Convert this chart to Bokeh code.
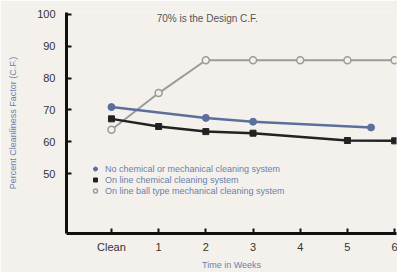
from bokeh.plotting import figure
from bokeh.models import Legend, LegendItem, Label, FixedTicker
from bokeh.embed import file_html
from bokeh.resources import INLINE

x_ticks = [0, 1, 2, 3, 4, 5, 6]
x_tick_labels = ["Clean", "1", "2", "3", "4", "5", "6"]
y_ticks = [50, 60, 70, 80, 90, 100]

none_x = [0, 2, 3, 5.5]
none_y = [70.9, 67.5, 66.3, 64.5]

chem_x = [0, 1, 2, 3, 5, 6]
chem_y = [67.2, 64.8, 63.2, 62.7, 60.4, 60.3]

ball_x = [0, 1, 2, 3, 4, 5, 6]
ball_y = [63.8, 75.3, 85.6, 85.6, 85.6, 85.6, 85.6]

labels = [
    "No chemical or mechanical cleaning system",
    "On line chemical cleaning system",
    "On line ball type mechanical cleaning system",
]
title_text = "70% is the Design C.F."

BG = "#f4f1ec"
BLUE = "#5b6f9c"
BLACK = "#222222"
GRAY = "#9b9b9b"
TXT_BLUE = "#6a7fab"

p = figure(width=397, height=272, output_backend="svg", toolbar_location=None,
           x_range=(-0.953, 6.04), y_range=(31.2, 100.6),
           background_fill_color=BG, border_fill_color=BG,
           min_border_left=66, min_border_right=1, min_border_top=12, min_border_bottom=38)
p.outline_line_color = None
p.grid.visible = False

# lines
p.line(ball_x, ball_y, line_color=GRAY, line_width=2)
p.line(none_x, none_y, line_color=BLUE, line_width=2.5)
p.line(chem_x, chem_y, line_color=BLACK, line_width=2.5)

r_ball = p.scatter(ball_x, ball_y, marker="circle", size=7, fill_color=BG,
                   line_color=GRAY, line_width=1.5)
r_none = p.scatter(none_x, none_y, marker="circle", size=7, fill_color=BLUE,
                   line_color=BLUE)
r_chem = p.scatter(chem_x, chem_y, marker="square", size=6, fill_color=BLACK,
                   line_color=BLACK)

legend = Legend(items=[LegendItem(label=labels[0], renderers=[r_none]),
                       LegendItem(label=labels[1], renderers=[r_chem]),
                       LegendItem(label=labels[2], renderers=[r_ball])],
                location=(24, 37))
legend.background_fill_alpha = 0
legend.border_line_color = None
legend.label_text_font = "Liberation Sans"
legend.label_text_font_size = "9px"
legend.label_text_color = TXT_BLUE
legend.glyph_width = 10
legend.glyph_height = 11
legend.label_height = 11
legend.spacing = 0
legend.padding = 0
legend.margin = 0
legend.label_standoff = 5
p.add_layout(legend, "center")

# axes
for ax in (p.xaxis[0], p.yaxis[0]):
    ax.axis_line_width = 3
    ax.axis_line_color = "#111111"
    ax.major_tick_line_color = "#111111"
    ax.major_tick_line_width = 2
    ax.major_tick_in = 5
    ax.major_tick_out = 0
    ax.minor_tick_line_color = None
    ax.major_label_text_font = "Liberation Sans"
    ax.major_label_text_font_size = "11px"
    ax.major_label_text_color = "#333333"
    ax.axis_label_text_font = "Liberation Sans"
    ax.axis_label_text_font_size = "9px"
    ax.axis_label_text_font_style = "normal"
    ax.axis_label_text_color = TXT_BLUE

p.xaxis.ticker = FixedTicker(ticks=x_ticks)
p.xaxis.major_label_overrides = {t: l for t, l in zip(x_ticks, x_tick_labels)}
p.xaxis.major_label_standoff = 7
p.xaxis.axis_label = "Time in Weeks"
p.xaxis.axis_label_standoff = 4

p.yaxis.ticker = FixedTicker(ticks=y_ticks)
p.yaxis.major_label_standoff = 11
p.yaxis.axis_label = "Percent Cleanliness Factor (C.F.)"
p.yaxis.axis_label_standoff = 16

title = Label(x=2.03, y=100.6, text=title_text, text_align="center",
              text_baseline="top", text_font="Liberation Sans",
              text_font_size="10px", text_color="#555555")
p.add_layout(title)

open("out.html", "w").write(file_html(p, INLINE))
